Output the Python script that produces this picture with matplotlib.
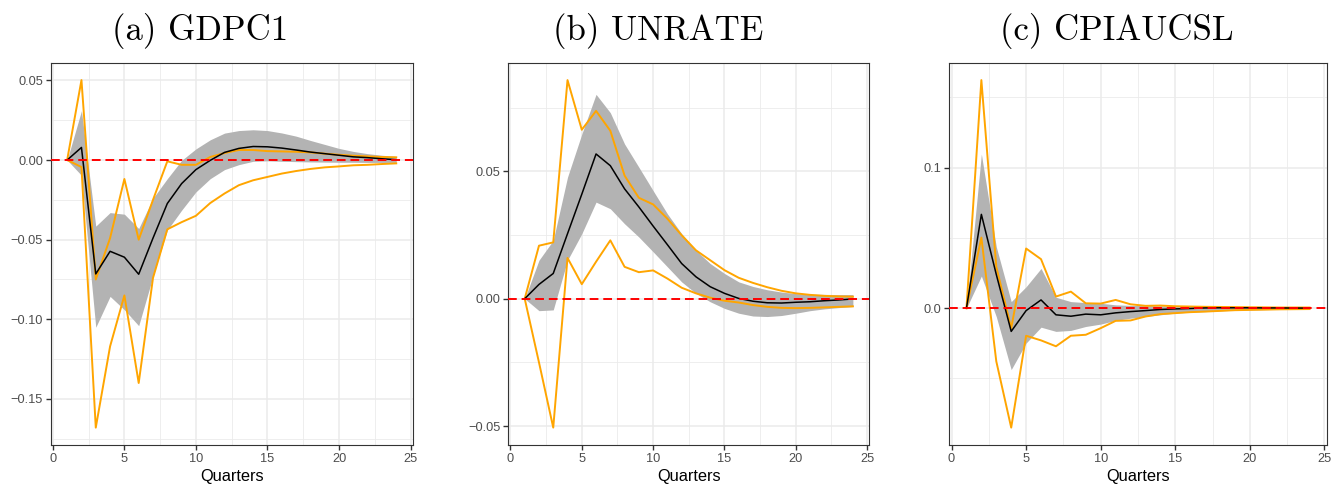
#!/usr/bin/env python3
import numpy as np
import matplotlib
matplotlib.use('Agg')
import matplotlib.pyplot as plt
from matplotlib.ticker import MultipleLocator, FuncFormatter

plt.rcParams['font.family'] = ['Liberation Sans', 'DejaVu Sans']

quarters = np.arange(1, 25)

# (a) GDPC1
gdp_irf = [0, 0.0079, -0.0715, -0.0573, -0.061, -0.0717, -0.049, -0.0273, -0.0148, -0.006,
           -0.0002, 0.0048, 0.0073, 0.0085, 0.0083, 0.0075, 0.0063, 0.005, 0.004, 0.003,
           0.002, 0.0015, 0.0008, 0.0002]
gdp_band_hi = [0, 0.031, -0.0415, -0.033, -0.034, -0.043, -0.024, -0.0117, -0.0002, 0.007,
               0.0127, 0.0169, 0.0185, 0.019, 0.0185, 0.017, 0.015, 0.0123, 0.0098, 0.0073,
               0.0054, 0.004, 0.003, 0.0023]
gdp_band_lo = [0, -0.0096, -0.105, -0.0856, -0.094, -0.104, -0.073, -0.044, -0.0315, -0.020,
               -0.0117, -0.006, -0.0029, -0.0008, -0.0005, -0.0008, -0.001, -0.0012, -0.0013, -0.0014,
               -0.0014, -0.0015, -0.0015, -0.0015]
gdp_orange_hi = [0, 0.0502, -0.075, -0.049, -0.0119, -0.050, -0.025, -0.0008, -0.003, -0.003,
                 0.0019, 0.0044, 0.0063, 0.0063, 0.0056, 0.0054, 0.0052, 0.0048, 0.004, 0.0033,
                 0.0027, 0.0023, 0.0019, 0.0017]
gdp_orange_lo = [0, -0.0044, -0.168, -0.117, -0.085, -0.140, -0.074, -0.0435, -0.039, -0.035,
                 -0.027, -0.021, -0.0158, -0.0127, -0.0106, -0.0085, -0.0069, -0.0056, -0.0046, -0.004,
                 -0.0033, -0.003, -0.0025, -0.0021]

# (b) UNRATE
unr_irf = [0, 0.0056, 0.0099, 0.0255, 0.041, 0.0568, 0.0522, 0.0431, 0.036, 0.0285,
           0.0212, 0.0138, 0.0086, 0.0047, 0.0021, 0.0001, -0.001, -0.0016, -0.0017, -0.0014,
           -0.0012, -0.0008, -0.0005, -0.0001]
unr_band_hi = [0, 0.0151, 0.0229, 0.0477, 0.0646, 0.0802, 0.073, 0.0607, 0.0516, 0.0424,
               0.0333, 0.0255, 0.019, 0.0138, 0.0099, 0.0066, 0.0048, 0.0035, 0.0026, 0.002,
               0.0018, 0.0017, 0.0016, 0.0016]
unr_band_lo = [0, -0.0047, -0.0044, 0.0151, 0.0255, 0.0379, 0.0353, 0.0294, 0.0242, 0.0184,
               0.0125, 0.0066, 0.0021, -0.0012, -0.0038, -0.0057, -0.0068, -0.007, -0.0066, -0.0057,
               -0.0047, -0.004, -0.0035, -0.0031]
unr_orange_hi = [0, 0.0208, 0.0221, 0.0858, 0.0663, 0.0737, 0.0659, 0.0483, 0.0396, 0.037,
                 0.0314, 0.0249, 0.019, 0.0151, 0.0112, 0.0082, 0.0062, 0.0045, 0.0031, 0.0021,
                 0.0015, 0.0011, 0.0009, 0.0008]
unr_orange_lo = [0, -0.025, -0.0506, 0.016, 0.0057, 0.0145, 0.0229, 0.0125, 0.0104, 0.0111,
                 0.0079, 0.0043, 0.0021, 0.0004, -0.0008, -0.0015, -0.0025, -0.0032, -0.0036, -0.0037,
                 -0.0036, -0.0034, -0.0032, -0.003]

# (c) CPIAUCSL
cpi_irf = [0, 0.0668, 0.024, -0.0165, -0.0017, 0.0059, -0.0047, -0.0057, -0.0042, -0.0047,
           -0.0033, -0.0024, -0.0017, -0.0009, -0.0005, -0.0002, 0.0002, 0.0003, 0.0003, 0.0003,
           0.0002, 0.0002, 0.0001, 0.0001]
cpi_band_hi = [0, 0.1097, 0.0437, 0.0047, 0.0153, 0.0283, 0.0078, 0.0047, 0.004, 0.0035,
               0.0024, 0.002, 0.0019, 0.0017, 0.0012, 0.001, 0.001, 0.0009, 0.0008, 0.0008,
               0.0007, 0.0007, 0.0006, 0.0006]
cpi_band_lo = [0, 0.0229, -0.006, -0.0437, -0.0248, -0.0135, -0.0165, -0.0158, -0.013, -0.0113,
               -0.0087, -0.0071, -0.0059, -0.0047, -0.0035, -0.0028, -0.0024, -0.0019, -0.0014, -0.0012,
               -0.001, -0.0008, -0.0007, -0.0006]
cpi_orange_hi = [0, 0.1624, 0.0295, -0.0142, 0.0425, 0.0349, 0.0083, 0.0118, 0.0035, 0.0033,
                 0.0059, 0.0028, 0.0017, 0.0019, 0.0014, 0.0012, 0.001, 0.0009, 0.0008, 0.0007,
                 0.0006, 0.0005, 0.0005, 0.0005]
cpi_orange_lo = [0, 0.0503, -0.0378, -0.085, -0.0196, -0.0229, -0.0271, -0.0196, -0.0189, -0.0142,
                 -0.009, -0.0087, -0.0059, -0.0042, -0.0035, -0.0028, -0.0024, -0.0019, -0.0014, -0.0012,
                 -0.001, -0.0008, -0.0007, -0.0006]

titles = ['(a) GDPC1', '(b) UNRATE', '(c) CPIAUCSL']
title_x = [200, 658, 1117]  # pixel centres of the subcaptions

panels = [
    (gdp_irf, gdp_band_lo, gdp_band_hi, gdp_orange_lo, gdp_orange_hi, 0.05, 0.025, '{:.2f}'),
    (unr_irf, unr_band_lo, unr_band_hi, unr_orange_lo, unr_orange_hi, 0.05, 0.025, '{:.2f}'),
    (cpi_irf, cpi_band_lo, cpi_band_hi, cpi_orange_lo, cpi_orange_hi, 0.1, 0.05, '{:.1f}'),
]

W, H = 1341, 486
axes_px = [(50.7, 412.7), (508.3, 869.3), (949.3, 1326.7)]
top_px, bot_px = 62.7, 445.0

fig = plt.figure(figsize=(W / 100, H / 100), dpi=100)

for i, (irf, blo, bhi, olo, ohi, major, minor, fmt) in enumerate(panels):
    l, r = axes_px[i]
    ax = fig.add_axes([l / W, (H - bot_px) / H, (r - l) / W, (bot_px - top_px) / H])

    ax.fill_between(quarters, blo, bhi, color='#B3B3B3', linewidth=0, zorder=2)
    ax.plot(quarters, ohi, color='orange', lw=1.4, zorder=3)
    ax.plot(quarters, olo, color='orange', lw=1.4, zorder=3)
    ax.plot(quarters, irf, color='black', lw=1.1, zorder=4)
    ax.axhline(0, color='red', lw=1.4, ls=(0, (4.5, 2.5)), zorder=5)

    # ggplot-style limits: 5% expansion of data range
    allv = np.concatenate([blo, bhi, olo, ohi, irf])
    lo, hi = allv.min(), allv.max()
    pad = 0.05 * (hi - lo)
    ax.set_ylim(lo - pad, hi + pad)
    ax.set_xlim(1 - 0.05 * 23, 24 + 0.05 * 23)

    ax.xaxis.set_major_locator(MultipleLocator(5))
    ax.xaxis.set_minor_locator(MultipleLocator(2.5))
    ax.yaxis.set_major_locator(MultipleLocator(major))
    ax.yaxis.set_minor_locator(MultipleLocator(minor))
    ax.yaxis.set_major_formatter(FuncFormatter(lambda v, p, f=fmt: f.format(v).replace('-', '\u2212')))
    ax.xaxis.set_major_formatter(FuncFormatter(lambda v, p: '{:d}'.format(int(round(v)))))

    ax.grid(which='major', color='#EBEBEB', lw=1.1, zorder=0)
    ax.grid(which='minor', color='#EBEBEB', lw=0.6, zorder=0)
    ax.set_axisbelow(True)
    ax.tick_params(which='major', length=3.5, width=1.0, color='#333333',
                   labelsize=9.2, labelcolor='#4D4D4D', pad=2)
    ax.tick_params(which='minor', length=0)
    for s in ax.spines.values():
        s.set_color('#333333')
        s.set_linewidth(0.8)

    ax.set_xlabel('Quarters', fontsize=11.8, color='black', labelpad=3)

    fig.text(title_x[i] / W, 1 - 31 / H, titles[i], family='cmr10', fontsize=25,
             ha='center', va='center')

fig.savefig('out.png', dpi=100)
